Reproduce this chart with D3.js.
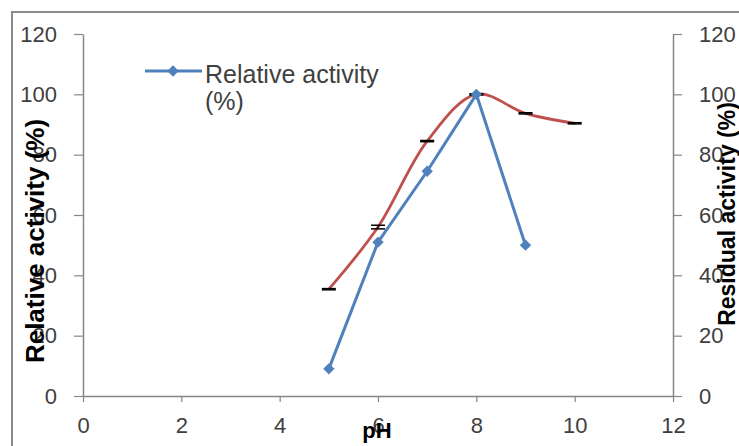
<!DOCTYPE html>
<html>
<head>
<meta charset="utf-8">
<script src="https://cdn.jsdelivr.net/npm/d3@7"></script>
<style>
  body { margin: 0; background: #fff; }
  svg { display: block; font-family: "Liberation Sans", Arial, sans-serif; }
</style>
</head>
<body>
<script>
'use strict';

// relative activity (blue, left axis)
const relPH = [5, 6, 7, 8, 9];
const relValues = [9, 51, 74.5, 100, 50];

// residual activity (red, right axis) with small error bars
const resPH = [5, 6, 7, 8, 9, 10];
const resValues = [35.4, 56, 84.5, 100, 93.7, 90.4];
const resErrors = [0.2, 0.6, 0.2, 0.2, 0.2, 0.2];

const xTicks = [0, 2, 4, 6, 8, 10, 12];
const yTicks = [0, 20, 40, 60, 80, 100, 120];

const width = 739, height = 446;

const svg = d3.select('body').append('svg')
  .attr('width', width)
  .attr('height', height);

// chart border
svg.append('rect')
  .attr('x', 12).attr('y', 12)
  .attr('width', 900).attr('height', 600)
  .attr('fill', 'none')
  .attr('stroke', '#8c8c8c')
  .attr('stroke-width', 2);

let x = d3.scaleLinear().domain([0, 12]).range([83, 673]);
let yL = d3.scaleLinear().domain([0, 120]).range([396, 34]);
let yR = d3.scaleLinear().domain([0, 120]).range([396, 34]);

// x axis
let xAxis = svg.append('g')
  .attr('transform', 'translate(0,' + yL(0) + ')')
  .call(d3.axisBottom(x).tickValues(xTicks).tickSize(6).tickPadding(10).tickSizeOuter(0));

// left axis
let leftAxis = svg.append('g')
  .attr('transform', 'translate(' + x(0) + ',0)')
  .call(d3.axisLeft(yL).tickValues(yTicks).tickSize(9).tickPadding(17).tickSizeOuter(0));

// right axis
let rightAxis = svg.append('g')
  .attr('transform', 'translate(' + x(12) + ',0)')
  .call(d3.axisRight(yR).tickValues(yTicks).tickSize(9).tickPadding(17).tickSizeOuter(0));

[xAxis, leftAxis, rightAxis].forEach((g) => {
  g.select('.domain').attr('stroke', '#868686').attr('stroke-width', 1.5);
  g.selectAll('.tick line').attr('stroke', '#868686').attr('stroke-width', 1.2);
  g.selectAll('.tick text')
    .attr('fill', '#404040')
    .style('font-size', '22px')
    .style('font-family', '"Liberation Sans", Arial, sans-serif');
});
xAxis.selectAll('.tick text').attr('dy', '0.95em');

// red smoothed line
let redLine = d3.line()
  .x((d, i) => x(resPH[i]))
  .y((d) => yR(d))
  .curve(d3.curveCatmullRom.alpha(0.5));

svg.append('path')
  .datum(resValues)
  .attr('d', redLine)
  .attr('fill', 'none')
  .attr('stroke', '#c0504d')
  .attr('stroke-width', 2.8);

// error bars
let errG = svg.append('g');
resValues.forEach((v, i) => {
  let cx = x(resPH[i]);
  errG.append('line')
    .attr('x1', cx).attr('x2', cx)
    .attr('y1', yR(v - resErrors[i])).attr('y2', yR(v + resErrors[i]))
    .attr('stroke', '#000').attr('stroke-width', 1.2);
  [v - resErrors[i], v + resErrors[i]].forEach((e) => {
    errG.append('line')
      .attr('x1', cx - 7).attr('x2', cx + 7)
      .attr('y1', yR(e)).attr('y2', yR(e))
      .attr('stroke', '#000').attr('stroke-width', 1.5);
  });
});

// blue line with diamonds
let blueLine = d3.line()
  .x((d, i) => x(relPH[i]))
  .y((d) => yL(d));

svg.append('path')
  .datum(relValues)
  .attr('d', blueLine)
  .attr('fill', 'none')
  .attr('stroke', '#4f81bd')
  .attr('stroke-width', 3);

// square turned 45 degrees, like Excel's diamond marker
let diamond = d3.symbol().type(d3.symbolSquare).size(64);
svg.selectAll('.dot')
  .data(relValues)
  .enter()
  .append('path')
  .attr('class', 'dot')
  .attr('d', diamond)
  .attr('transform', (d, i) => 'translate(' + x(relPH[i]) + ',' + yL(d) + ')rotate(45)')
  .attr('fill', '#4f81bd');

// legend
svg.append('line')
  .attr('x1', 145).attr('x2', 202)
  .attr('y1', 71).attr('y2', 71)
  .attr('stroke', '#4f81bd').attr('stroke-width', 3);
svg.append('path')
  .attr('d', diamond)
  .attr('transform', 'translate(173,71)rotate(45)')
  .attr('fill', '#4f81bd');
let legText = svg.append('text')
  .attr('x', 205).attr('y', 83)
  .attr('fill', '#404040')
  .style('font-size', '25px');
legText.append('tspan').attr('x', 205).text('Relative activity');
legText.append('tspan').attr('x', 205).attr('dy', 27).text('(%)');

// axis titles
svg.append('text')
  .attr('transform', 'translate(44,241)rotate(-90)')
  .attr('text-anchor', 'middle')
  .style('font-size', '26px')
  .style('font-weight', 'bold')
  .attr('fill', '#000')
  .text('Relative activity (%)');

svg.append('text')
  .attr('transform', 'translate(735,214)rotate(-90)')
  .attr('text-anchor', 'middle')
  .style('font-size', '23px')
  .style('font-weight', 'bold')
  .attr('fill', '#000')
  .text('Residual activity (%)');

svg.append('text')
  .attr('x', 377).attr('y', 438)
  .attr('text-anchor', 'middle')
  .style('font-size', '22px')
  .style('font-weight', 'bold')
  .attr('fill', '#000')
  .text('pH');
</script>
</body>
</html>
